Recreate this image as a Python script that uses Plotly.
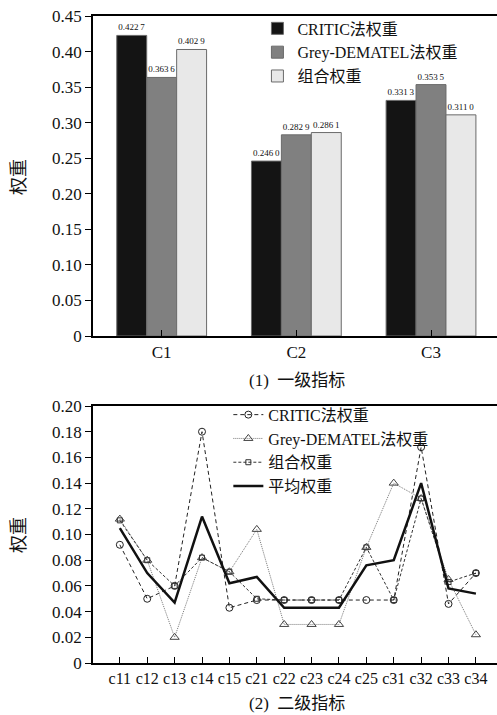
import plotly.graph_objects as go

# ---- data: top (一级指标) ----
cats1 = ["C1", "C2", "C3"]
critic1 = [0.4227, 0.2460, 0.3313]
grey1 = [0.3636, 0.2829, 0.3535]
combo1 = [0.4029, 0.2861, 0.3110]

# ---- data: bottom (二级指标) ----
cats2 = ["c11", "c12", "c13", "c14", "c15", "c21", "c22", "c23", "c24", "c25", "c31", "c32", "c33", "c34"]
critic2 = [0.092, 0.050, 0.060, 0.180, 0.043, 0.049, 0.049, 0.049, 0.049, 0.049, 0.049, 0.168, 0.046, 0.070]
grey2 = [0.112, 0.080, 0.020, 0.082, 0.071, 0.104, 0.030, 0.030, 0.030, 0.090, 0.140, 0.128, 0.065, 0.022]
combo2 = [0.111, 0.080, 0.060, 0.082, 0.071, 0.050, 0.049, 0.049, 0.049, 0.090, 0.049, 0.128, 0.063, 0.070]
avg2 = [0.105, 0.070, 0.047, 0.114, 0.062, 0.067, 0.043, 0.043, 0.043, 0.076, 0.080, 0.140, 0.058, 0.054]

ticks1 = [0, 0.05, 0.10, 0.15, 0.20, 0.25, 0.30, 0.35, 0.40, 0.45]
ticktext1 = ["0", "0.05", "0.10", "0.15", "0.20", "0.25", "0.30", "0.35", "0.40", "0.45"]
ticks2 = [0, 0.02, 0.04, 0.06, 0.08, 0.10, 0.12, 0.14, 0.16, 0.18, 0.20]
ticktext2 = ["0", "0.02", "0.04", "0.06", "0.08", "0.10", "0.12", "0.14", "0.16", "0.18", "0.20"]


def fmt(v):
    s = f"{v:.4f}"
    return s[:-1] + "\u2009" + s[-1]


FONT = "Liberation Serif, Noto Sans CJK SC, serif"

fig = go.Figure()

bar_styles = [
    ("CRITIC法权重", critic1, "#141414"),
    ("Grey-DEMATEL法权重", grey1, "#808080"),
    ("组合权重", combo1, "#e8e8e8"),
]
for name, vals, col in bar_styles:
    fig.add_trace(go.Bar(
        x=cats1, y=vals, name=name,
        marker=dict(color=col, line=dict(color="#6a6a6a", width=1)),
        text=[fmt(v) for v in vals], textposition="outside",
        textfont=dict(size=9, family=FONT, color="#111"),
        constraintext="none", cliponaxis=False,
        xaxis="x", yaxis="y", legend="legend",
    ))

line_styles = [
    ("CRITIC法权重", critic2, dict(color="#222", width=1, dash="4px,3px"), dict(symbol="circle-open", size=7, color="#222", line=dict(width=1))),
    ("Grey-DEMATEL法权重", grey2, dict(color="#777", width=1, dash="1px,1px"), dict(symbol="triangle-up-open", size=8, color="#444", line=dict(width=1))),
    ("组合权重", combo2, dict(color="#333", width=1, dash="3px,2px"), dict(symbol="square-open", size=5, color="#333", line=dict(width=1))),
]
for name, vals, ln, mk in line_styles:
    fig.add_trace(go.Scatter(
        x=cats2, y=vals, name=name, mode="lines+markers",
        line=ln, marker=mk, xaxis="x2", yaxis="y2", legend="legend2",
    ))
fig.add_trace(go.Scatter(
    x=cats2, y=avg2, name="平均权重", mode="lines",
    line=dict(color="#111", width=2.5), xaxis="x2", yaxis="y2", legend="legend2",
))

axis_common = dict(showline=True, linecolor="black", linewidth=1.5, showgrid=False, zeroline=False,
                   automargin=False, tickfont=dict(family=FONT, size=17, color="#111"))

fig.update_layout(
    width=497, height=715,
    margin=dict(l=93, r=0, t=16, b=52),
    paper_bgcolor="white", plot_bgcolor="white",
    font=dict(family=FONT, color="#111"),
    barmode="group", bargap=0.333, bargroupgap=0,
    xaxis=dict(axis_common, domain=[0, 1], anchor="y", range=[-0.51, 2.49], mirror=True,
               ticks="inside", ticklen=6, tickcolor="black"),
    yaxis=dict(axis_common, domain=[0.5054, 1], anchor="x", range=[0, 0.45],
               tickvals=ticks1, ticktext=ticktext1, ticks="outside", ticklen=6, tickcolor="black"),
    xaxis2=dict(axis_common, domain=[0, 1], anchor="y2", range=[-0.98, 13.77], mirror=True,
                ticks="inside", ticklen=6, tickcolor="black", tickfont=dict(family=FONT, size=16, color="#111")),
    yaxis2=dict(axis_common, domain=[0, 0.3972], anchor="x2", range=[0, 0.20],
                tickvals=ticks2, ticktext=ticktext2, ticks="outside", ticklen=6, tickcolor="black"),
    legend=dict(x=0.407, y=1.007, xanchor="left", yanchor="top", bgcolor="rgba(0,0,0,0)",
                font=dict(family=FONT, size=16), tracegroupgap=0, itemwidth=30),
    legend2=dict(x=0.335, y=0.410, xanchor="left", yanchor="top", bgcolor="rgba(0,0,0,0)",
                 font=dict(family=FONT, size=16), tracegroupgap=0, itemwidth=30),
    showlegend=True,
    annotations=[
        dict(text="权重", x=19, y=177, xref="paper", yref="paper", showarrow=False, textangle=-90,
             font=dict(size=18, family=FONT)),
        dict(text="权重", x=19, y=535, xref="paper", yref="paper", showarrow=False, textangle=-90,
             font=dict(size=18, family=FONT)),
        dict(text="(1)  一级指标", x=297, y=380, xref="paper", yref="paper", showarrow=False,
             font=dict(size=17, family=FONT)),
        dict(text="(2)  二级指标", x=297, y=703, xref="paper", yref="paper", showarrow=False,
             font=dict(size=17, family=FONT)),
    ],
)

# convert pixel positions of annotations into paper coords
W, H, L, R, T, B = 497, 715, 93, 0, 16, 52
pw, ph = W - L - R, H - T - B
for a in fig.layout.annotations:
    px, py = a.x, a.y
    a.x = (px - L) / pw
    a.y = (H - B - py) / ph
    a.xanchor = "center"
    a.yanchor = "middle"

fig.write_html("out.html", config={"displayModeBar": False})

# remove the default page margin so the figure fills the window exactly
with open("out.html", "r", encoding="utf-8") as f:
    html = f.read()
html = html.replace("<head>", "<head><style>html,body{margin:0;padding:0;overflow:hidden;}</style>", 1)
with open("out.html", "w", encoding="utf-8") as f:
    f.write(html)
